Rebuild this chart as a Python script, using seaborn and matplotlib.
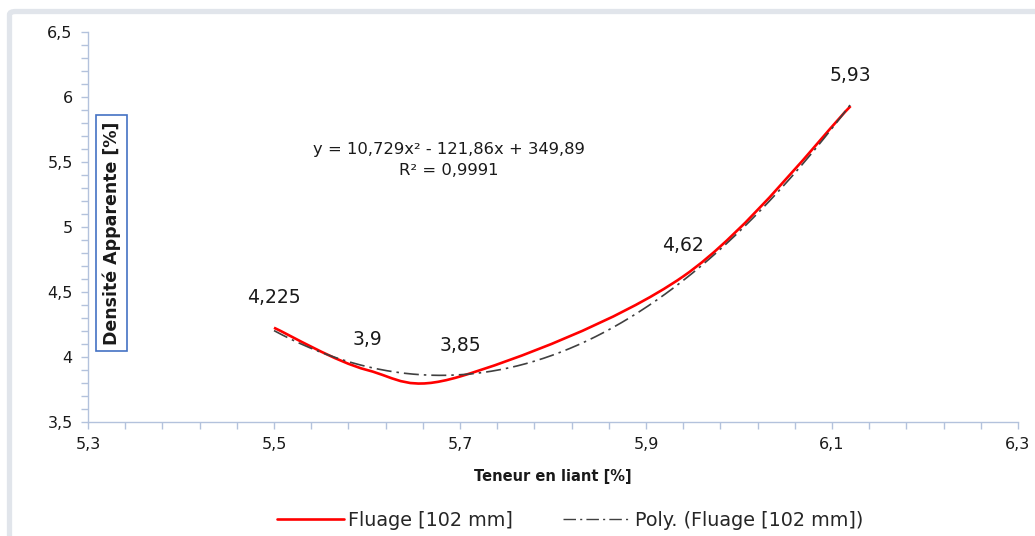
import numpy as np
import matplotlib
matplotlib.use('Agg')
import matplotlib.pyplot as plt
import seaborn as sns
from matplotlib.path import Path
from matplotlib.patches import PathPatch, FancyBboxPatch
from matplotlib.lines import Line2D
from matplotlib.ticker import FuncFormatter

# data
teneur = [5.5, 5.6, 5.7, 5.94, 6.12]
densite = [4.225, 3.9, 3.85, 4.62, 5.93]
labels = ['4,225', '3,9', '3,85', '4,62', '5,93']
x_ticks = [5.3, 5.5, 5.7, 5.9, 6.1, 6.3]
y_ticks = [3.5, 4, 4.5, 5, 5.5, 6, 6.5]
eq_text = 'y = 10,729x² - 121,86x + 349,89\nR² = 0,9991'
serie_name = 'Fluage [102 mm]'
trend_name = 'Poly. (Fluage [102 mm])'

sns.set_style('white')
plt.rcParams['font.family'] = ['DejaVu Sans']

fig = plt.figure(figsize=(10.35, 5.36), dpi=100)
ax = fig.add_axes([88 / 1035, 114 / 536, 930 / 1035, 390 / 536])

# chart frame (cut off at right/bottom like the screenshot)
frame = FancyBboxPatch((9.5 / 1035, -20 / 536), 1.1, (20 + 524.5) / 536,
                       boxstyle='round,pad=0,rounding_size=0.006',
                       transform=fig.transFigure, fill=False,
                       ec='#e1e5eb', lw=3.8, zorder=0)
fig.patches.append(frame)

# smoothed series line (excel-like bezier through the points)
pts = np.column_stack([teneur, densite])
n = len(pts)
verts = [tuple(pts[0])]
codes = [Path.MOVETO]
for i in range(n - 1):
    p0 = pts[max(i - 1, 0)]
    p1 = pts[i]
    p2 = pts[i + 1]
    p3 = pts[min(i + 2, n - 1)]
    c1 = p1 + (p2 - p0) / 6
    c2 = p2 - (p3 - p1) / 6
    verts += [tuple(c1), tuple(c2), tuple(p2)]
    codes += [Path.CURVE4] * 3
ax.add_patch(PathPatch(Path(verts, codes), fill=False, ec='#ff0000', lw=1.9,
                       capstyle='butt', zorder=3))

# polynomial trendline
coef = np.polyfit(teneur, densite, 2)
xt = np.linspace(min(teneur), max(teneur), 200)
sns.lineplot(x=xt, y=np.polyval(coef, xt), ax=ax, color='#404040', lw=1.2,
             dashes=False, zorder=4)
ax.lines[-1].set_dashes((9, 3, 1.5, 3))

for x, y, t in zip(teneur, densite, labels):
    ax.annotate(t, (x, y), xytext=(0, 22), textcoords='offset points',
                ha='center', va='center', fontsize=13.5, color='#1a1a1a')

ax.text(5.688, 5.515, eq_text, ha='center', va='center', fontsize=11.8,
        color='#1a1a1a', linespacing=1.45)

ax.set_xlim(5.3, 6.3)
ax.set_ylim(3.5, 6.5)
ax.set_xticks(x_ticks)
ax.set_xticks(np.arange(5.3, 6.30, 0.04), minor=True)
ax.set_yticks(y_ticks)
ax.set_yticks(np.arange(3.5, 6.5, 0.1), minor=True)
ax.xaxis.set_major_formatter(FuncFormatter(lambda v, p: f'{v:.1f}'.replace('.', ',')))
ax.yaxis.set_major_formatter(FuncFormatter(lambda v, p: f'{v:g}'.replace('.', ',')))

spine_c = '#b3c2dc'
for s in ['top', 'right']:
    ax.spines[s].set_visible(False)
for s in ['left', 'bottom']:
    ax.spines[s].set_color(spine_c)
    ax.spines[s].set_linewidth(1.0)
ax.tick_params(which='both', direction='out', color=spine_c, width=1.0,
               left=True, bottom=True)
ax.tick_params(which='major', length=5, labelsize=11.5, labelcolor='#1a1a1a', pad=6)
ax.tick_params(which='minor', length=5)

ax.set_xlabel('Teneur en liant [%]', fontsize=10.5, fontweight='bold',
              color='#1a1a1a', labelpad=12)
ax.set_ylabel('')

fig.text(111.5 / 1035, 1 - 233 / 536, 'Densité Apparente [%]', rotation=90,
         ha='center', va='center', fontsize=12.5, fontweight='bold', color='#1a1a1a',
         bbox=dict(boxstyle='square,pad=0.35', fc='white', ec='#4472c4', lw=1.2))

handles = [Line2D([], [], color='#ff0000', lw=1.9),
           Line2D([], [], color='#404040', lw=1.0, dashes=(9, 3, 1.5, 3))]
fig.legend(handles, [serie_name, trend_name], loc='center',
           bbox_to_anchor=(570 / 1035, 16 / 536), ncol=2, frameon=False,
           fontsize=13.8, handlelength=3.5, columnspacing=2.6, handletextpad=0.25)

fig.savefig('out.png', dpi=100)
